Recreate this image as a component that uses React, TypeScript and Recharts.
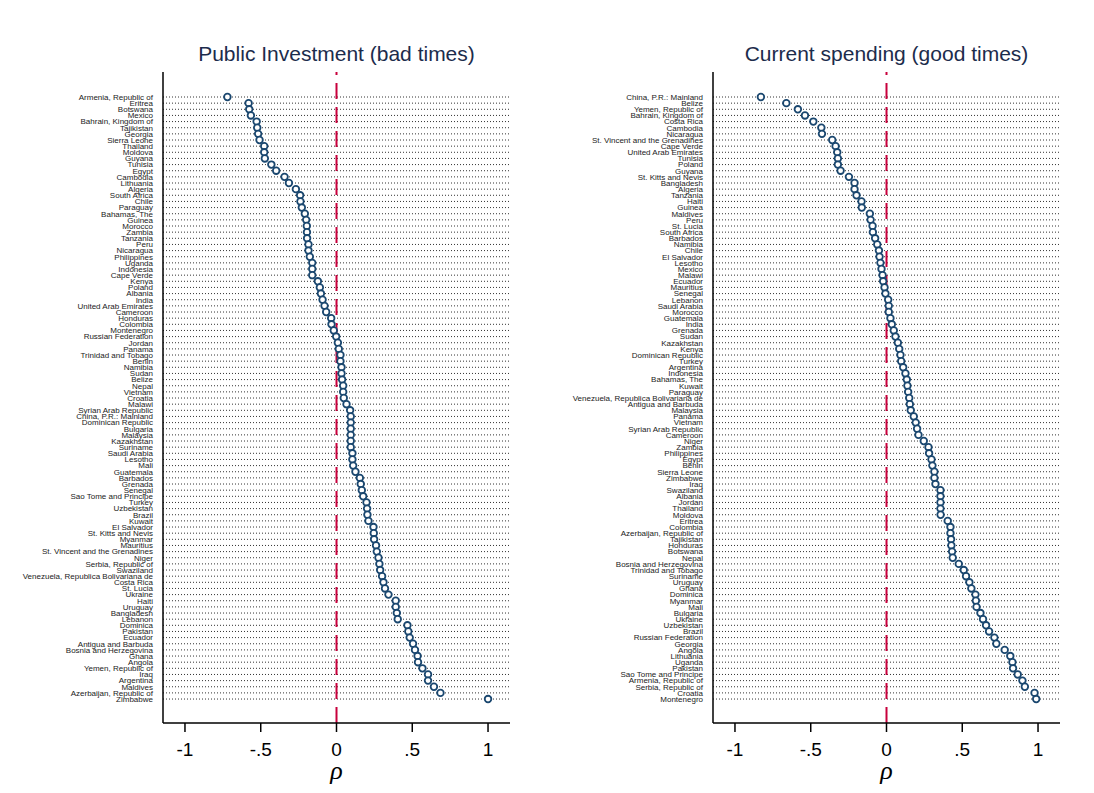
import React from 'react';
import {
  ScatterChart,
  Scatter,
  XAxis,
  YAxis,
  ReferenceLine,
  Label,
} from 'recharts';

const investCountries = [
  'Armenia, Republic of', 'Eritrea', 'Botswana', 'Mexico', 'Bahrain, Kingdom of', 'Tajikistan',
  'Georgia', 'Sierra Leone', 'Thailand', 'Moldova', 'Guyana', 'Tunisia', 'Egypt', 'Cambodia',
  'Lithuania', 'Algeria', 'South Africa', 'Chile', 'Paraguay', 'Bahamas, The', 'Guinea', 'Morocco',
  'Zambia', 'Tanzania', 'Peru', 'Nicaragua', 'Philippines', 'Uganda', 'Indonesia', 'Cape Verde',
  'Kenya', 'Poland', 'Albania', 'India', 'United Arab Emirates', 'Cameroon', 'Honduras', 'Colombia',
  'Montenegro', 'Russian Federation', 'Jordan', 'Panama', 'Trinidad and Tobago', 'Benin', 'Namibia',
  'Sudan', 'Belize', 'Nepal', 'Vietnam', 'Croatia', 'Malawi', 'Syrian Arab Republic',
  'China, P.R.: Mainland', 'Dominican Republic', 'Bulgaria', 'Malaysia', 'Kazakhstan', 'Suriname',
  'Saudi Arabia', 'Lesotho', 'Mali', 'Guatemala', 'Barbados', 'Grenada', 'Senegal',
  'Sao Tome and Principe', 'Turkey', 'Uzbekistan', 'Brazil', 'Kuwait', 'El Salvador',
  'St. Kitts and Nevis', 'Myanmar', 'Mauritius', 'St. Vincent and the Grenadines', 'Niger',
  'Serbia, Republic of', 'Swaziland', 'Venezuela, Republica Bolivariana de', 'Costa Rica', 'St. Lucia',
  'Ukraine', 'Haiti', 'Uruguay', 'Bangladesh', 'Lebanon', 'Dominica', 'Pakistan', 'Ecuador',
  'Antigua and Barbuda', 'Bosnia and Herzegovina', 'Ghana', 'Angola', 'Yemen, Republic of', 'Iraq',
  'Argentina', 'Maldives', 'Azerbaijan, Republic of', 'Zimbabwe',
];

const investRho = [
  -0.72, -0.58, -0.576, -0.565, -0.527, -0.523, -0.517, -0.508, -0.477, -0.477, -0.473, -0.43,
  -0.398, -0.343, -0.314, -0.268, -0.24, -0.238, -0.229, -0.209, -0.2, -0.196, -0.195, -0.194,
  -0.185, -0.185, -0.176, -0.16, -0.16, -0.16, -0.123, -0.11, -0.103, -0.092, -0.079, -0.068,
  -0.035, -0.033, -0.018, -0.002, 0.009, 0.015, 0.026, 0.026, 0.033, 0.033, 0.037, 0.044, 0.044,
  0.048, 0.066, 0.09, 0.094, 0.094, 0.094, 0.094, 0.094, 0.094, 0.105, 0.105, 0.11, 0.125, 0.154,
  0.16, 0.167, 0.176, 0.198, 0.202, 0.204, 0.211, 0.244, 0.246, 0.248, 0.261, 0.266, 0.277, 0.283,
  0.288, 0.301, 0.31, 0.32, 0.343, 0.391, 0.391, 0.398, 0.404, 0.468, 0.474, 0.483, 0.505, 0.518,
  0.535, 0.538, 0.567, 0.604, 0.604, 0.643, 0.686, 1.0,
];

const spendCountries = [
  'China, P.R.: Mainland', 'Belize', 'Yemen, Republic of', 'Bahrain, Kingdom of', 'Costa Rica',
  'Cambodia', 'Nicaragua', 'St. Vincent and the Grenadines', 'Cape Verde', 'United Arab Emirates',
  'Tunisia', 'Poland', 'Guyana', 'St. Kitts and Nevis', 'Bangladesh', 'Algeria', 'Tanzania', 'Haiti',
  'Guinea', 'Maldives', 'Peru', 'St. Lucia', 'South Africa', 'Barbados', 'Namibia', 'Chile',
  'El Salvador', 'Lesotho', 'Mexico', 'Malawi', 'Ecuador', 'Mauritius', 'Senegal', 'Lebanon',
  'Saudi Arabia', 'Morocco', 'Guatemala', 'India', 'Grenada', 'Sudan', 'Kazakhstan', 'Kenya',
  'Dominican Republic', 'Turkey', 'Argentina', 'Indonesia', 'Bahamas, The', 'Kuwait', 'Paraguay',
  'Venezuela, Republica Bolivariana de', 'Antigua and Barbuda', 'Malaysia', 'Panama', 'Vietnam',
  'Syrian Arab Republic', 'Cameroon', 'Niger', 'Zambia', 'Philippines', 'Egypt', 'Benin',
  'Sierra Leone', 'Zimbabwe', 'Iraq', 'Swaziland', 'Albania', 'Jordan', 'Thailand', 'Moldova',
  'Eritrea', 'Colombia', 'Azerbaijan, Republic of', 'Tajikistan', 'Honduras', 'Botswana', 'Nepal',
  'Bosnia and Herzegovina', 'Trinidad and Tobago', 'Suriname', 'Uruguay', 'Ghana', 'Dominica',
  'Myanmar', 'Mali', 'Bulgaria', 'Ukraine', 'Uzbekistan', 'Brazil', 'Russian Federation', 'Georgia',
  'Angola', 'Lithuania', 'Uganda', 'Pakistan', 'Sao Tome and Principe', 'Armenia, Republic of',
  'Serbia, Republic of', 'Croatia', 'Montenegro',
];

const spendRho = [
  -0.829, -0.661, -0.585, -0.538, -0.483, -0.43, -0.426, -0.358, -0.336, -0.325, -0.321, -0.321,
  -0.303, -0.248, -0.211, -0.211, -0.198, -0.165, -0.163, -0.11, -0.105, -0.092, -0.09, -0.075,
  -0.061, -0.05, -0.046, -0.04, -0.033, -0.026, -0.022, -0.013, -0.007, 0.011, 0.015, 0.015, 0.026,
  0.035, 0.048, 0.059, 0.075, 0.084, 0.092, 0.097, 0.11, 0.125, 0.134, 0.138, 0.143, 0.15, 0.154,
  0.16, 0.18, 0.193, 0.202, 0.211, 0.246, 0.277, 0.281, 0.297, 0.303, 0.316, 0.316, 0.323, 0.356,
  0.356, 0.356, 0.356, 0.357, 0.404, 0.422, 0.422, 0.426, 0.428, 0.433, 0.437, 0.477, 0.51, 0.525,
  0.547, 0.56, 0.587, 0.59, 0.594, 0.62, 0.637, 0.657, 0.677, 0.712, 0.725, 0.78, 0.817, 0.831,
  0.835, 0.866, 0.897, 0.913, 0.977, 0.988,
];

const xTicks = [-1, -0.5, 0, 0.5, 1];
const xTickLabels = ['-1', '-.5', '0', '.5', '1'];

const NAVY = '#1a476f';
const RED = '#c8003c';
const SANS = '"Liberation Sans", Arial, Helvetica, sans-serif';

function Dot(props: any) {
  const { cx, cy } = props;
  return <circle cx={cx} cy={cy} r={3.3} fill="#ffffff" stroke={NAVY} strokeWidth={1.8} />;
}

interface PanelProps {
  title: string;
  countries: string[];
  rho: number[];
  left: number;
  yAxisWidth: number;
  rightMargin: number;
}

function Panel({ title, countries, rho, left, yAxisWidth, rightMargin }: PanelProps) {
  const data = countries.map((name, i) => ({ name, idx: i + 1, rho: rho[i] }));
  const rowTicks = data.map((d) => d.idx);
  const width = 547;
  const plotLeft = left + yAxisWidth;
  const plotRight = left + width - rightMargin;

  // plain svg text so long names stay on one line
  const CountryTick = (props: any) => {
    const { x, y, payload } = props;
    return (
      <text
        x={x}
        y={y}
        dy="0.35em"
        textAnchor="end"
        fontSize={8}
        fontFamily={SANS}
        fill="#222222"
      >
        {countries[payload.value - 1]}
      </text>
    );
  };

  return (
    <>
      <div
        style={{
          position: 'absolute',
          left: plotLeft,
          width: plotRight - plotLeft,
          top: 42,
          textAlign: 'center',
          fontFamily: SANS,
          fontSize: 21,
          color: '#1c2c4c',
          whiteSpace: 'nowrap',
        }}
      >
        {title}
      </div>
      <div style={{ position: 'absolute', left, top: 0 }}>
        <ScatterChart
          width={width}
          height={793}
          margin={{ top: 72, right: rightMargin, bottom: 0, left: 0 }}
        >
          {rowTicks.map((idx) => (
            <ReferenceLine
              key={idx}
              y={idx}
              stroke="#333333"
              strokeWidth={1}
              strokeDasharray="1 2"
            />
          ))}
          <XAxis
            type="number"
            dataKey="rho"
            domain={[-1.145, 1.145]}
            allowDataOverflow
            ticks={xTicks}
            tickFormatter={(v: number) => xTickLabels[xTicks.indexOf(v)] ?? String(v)}
            height={70}
            tickSize={9}
            tickMargin={11}
            stroke="#000000"
            strokeWidth={1.5}
            tick={{ fontSize: 19, fill: '#000000', fontFamily: SANS }}
          >
            <Label
              value="ρ"
              position="insideBottom"
              offset={14}
              style={{
                fontSize: 26,
                fontStyle: 'italic',
                fontFamily: '"Liberation Serif", "Times New Roman", serif',
                fill: '#000000',
              }}
            />
          </XAxis>
          <YAxis
            type="number"
            dataKey="idx"
            reversed
            domain={[-3.07, 102.9]}
            allowDataOverflow
            ticks={rowTicks}
            interval={0}
            width={yAxisWidth}
            tickLine={false}
            tickSize={6}
            tickMargin={4}
            stroke="#000000"
            strokeWidth={1.5}
            tick={CountryTick}
          />
          <ReferenceLine x={0} stroke={RED} strokeWidth={2} strokeDasharray="16 8" />
          <Scatter data={data} shape={Dot} isAnimationActive={false} />
        </ScatterChart>
      </div>
    </>
  );
}

export default function App() {
  return (
    <div
      style={{
        position: 'absolute',
        left: 0,
        top: 0,
        width: 1094,
        height: 793,
        background: '#ffffff',
        overflow: 'hidden',
      }}
    >
      <Panel
        title="Public Investment (bad times)"
        countries={investCountries}
        rho={investRho}
        left={0}
        yAxisWidth={163}
        rightMargin={37}
      />
      <Panel
        title="Current spending (good times)"
        countries={spendCountries}
        rho={spendRho}
        left={547}
        yAxisWidth={166}
        rightMargin={34}
      />
    </div>
  );
}
